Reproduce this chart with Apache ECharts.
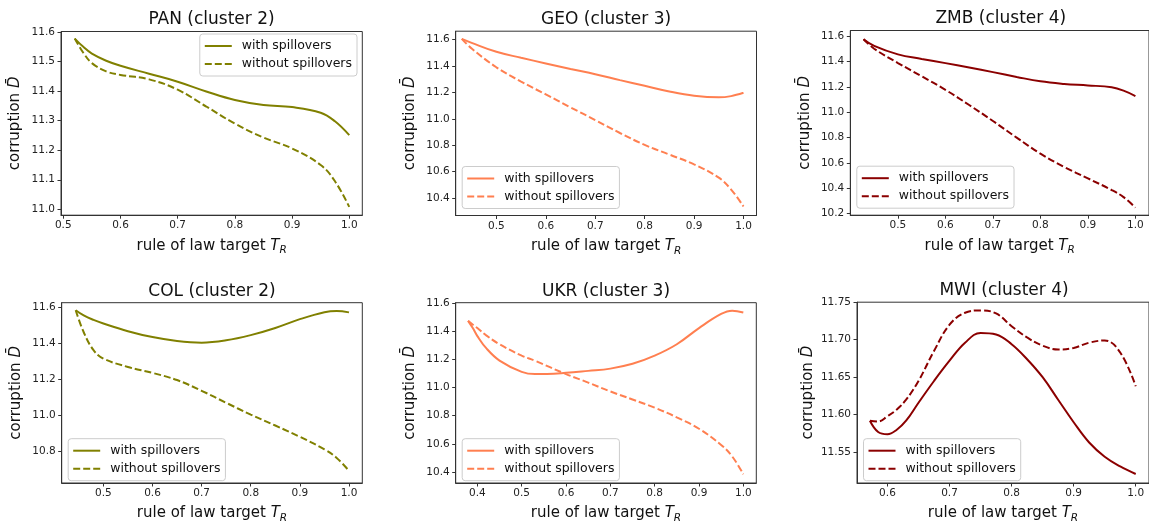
<!DOCTYPE html>
<html><head><meta charset="utf-8">
<script src="https://cdn.jsdelivr.net/npm/echarts@6/dist/echarts.min.js"></script>
<style>html,body{margin:0;padding:0;background:#fff}#c{width:1149px;height:525px}</style>
</head><body><div id="c"></div>
<script>
// ---------- DATA ----------
const LEGEND_LABELS = ['with spillovers', 'without spillovers'];
const TITLES = ['PAN (cluster 2)', 'GEO (cluster 3)', 'ZMB (cluster 4)', 'COL (cluster 2)', 'UKR (cluster 3)', 'MWI (cluster 4)'];

const PAN_X       = [0.52, 0.535, 0.55, 0.575, 0.6, 0.65, 0.7, 0.75, 0.8, 0.85, 0.9, 0.95, 0.975, 1.0];
const PAN_WITH    = [11.578, 11.550, 11.527, 11.503, 11.486, 11.459, 11.432, 11.399, 11.370, 11.353, 11.346, 11.327, 11.298, 11.251];
const PAN_WITHOUT = [11.578, 11.530, 11.495, 11.467, 11.455, 11.440, 11.405, 11.348, 11.290, 11.243, 11.206, 11.150, 11.095, 11.008];

const GEO_X       = [0.43, 0.45, 0.5, 0.55, 0.6, 0.65, 0.7, 0.75, 0.8, 0.85, 0.9, 0.95, 0.975, 1.0];
const GEO_WITH    = [11.605, 11.575, 11.507, 11.462, 11.419, 11.377, 11.338, 11.293, 11.250, 11.207, 11.175, 11.163, 11.172, 11.197];
const GEO_WITHOUT = [11.605, 11.532, 11.390, 11.282, 11.185, 11.087, 10.991, 10.893, 10.803, 10.730, 10.655, 10.555, 10.465, 10.337];

const ZMB_X       = [0.4276, 0.45, 0.5, 0.55, 0.6, 0.65, 0.7, 0.75, 0.8, 0.85, 0.9, 0.95, 0.975, 1.0];
const ZMB_WITH    = [11.578, 11.525, 11.458, 11.422, 11.389, 11.355, 11.318, 11.280, 11.245, 11.225, 11.213, 11.198, 11.172, 11.129];
const ZMB_WITHOUT = [11.578, 11.503, 11.390, 11.285, 11.178, 11.058, 10.932, 10.800, 10.674, 10.568, 10.478, 10.386, 10.330, 10.247];

const COL_X       = [0.4437, 0.46, 0.48, 0.5, 0.55, 0.6, 0.65, 0.7, 0.75, 0.8, 0.85, 0.9, 0.95, 0.975, 1.0];
const COL_WITH    = [11.585, 11.556, 11.531, 11.511, 11.468, 11.435, 11.413, 11.404, 11.417, 11.446, 11.486, 11.535, 11.574, 11.581, 11.573];
const COL_WITHOUT = [11.585, 11.462, 11.362, 11.315, 11.268, 11.235, 11.195, 11.135, 11.068, 11.002, 10.941, 10.878, 10.808, 10.760, 10.688];

const UKR_X       = [0.379, 0.39, 0.4, 0.42, 0.45, 0.5, 0.53, 0.6, 0.65, 0.7, 0.75, 0.8, 0.85, 0.9, 0.95, 0.975, 1.0];
const UKR_WITH    = [11.473, 11.42, 11.365, 11.279, 11.191, 11.111, 11.095, 11.104, 11.118, 11.134, 11.168, 11.226, 11.307, 11.422, 11.522, 11.545, 11.533];
const UKR_WITHOUT = [11.473, 11.445, 11.422, 11.37, 11.307, 11.226, 11.19, 11.095, 11.035, 10.972, 10.915, 10.857, 10.788, 10.707, 10.592, 10.51, 10.384];

const MWI_X       = [0.5717, 0.585, 0.6, 0.615, 0.63, 0.65, 0.675, 0.7, 0.725, 0.75, 0.775, 0.8, 0.825, 0.85, 0.875, 0.9, 0.925, 0.95, 0.975, 1.0];
const MWI_WITH    = [11.592, 11.577, 11.574, 11.580, 11.592, 11.616, 11.645, 11.672, 11.696, 11.709, 11.707, 11.694, 11.674, 11.650, 11.620, 11.590, 11.563, 11.544, 11.531, 11.521];
const MWI_WITHOUT = [11.592, 11.591, 11.598, 11.607, 11.620, 11.645, 11.685, 11.720, 11.736, 11.739, 11.735, 11.718, 11.703, 11.692, 11.687, 11.689, 11.696, 11.699, 11.683, 11.638];

const X_TICKS_05 = [0.5, 0.6, 0.7, 0.8, 0.9, 1.0];
const X_TICKS_04 = [0.4, 0.5, 0.6, 0.7, 0.8, 0.9, 1.0];
const X_TICKS_06 = [0.6, 0.7, 0.8, 0.9, 1.0];
const PAN_Y_TICKS = [11.0, 11.1, 11.2, 11.3, 11.4, 11.5, 11.6];
const GEO_Y_TICKS = [10.4, 10.6, 10.8, 11.0, 11.2, 11.4, 11.6];
const ZMB_Y_TICKS = [10.2, 10.4, 10.6, 10.8, 11.0, 11.2, 11.4, 11.6];
const COL_Y_TICKS = [10.8, 11.0, 11.2, 11.4, 11.6];
const UKR_Y_TICKS = [10.4, 10.6, 10.8, 11.0, 11.2, 11.4, 11.6];
const MWI_Y_TICKS = [11.55, 11.60, 11.65, 11.70, 11.75];

// ---------- LAYOUT / STYLE ----------
const W = 1149, H = 525;
const OLIVE = '#808000', CORAL = '#ff7f50', DRED = '#8b0000';
const panels = [
  {x: PAN_X, w: PAN_WITH, wo: PAN_WITHOUT, color: OLIVE, l: 61,    t: 31.5,  r: 362.3,  b: 215.2, xmin: 0.496,  xmax: 1.0228, ymin: 10.980, ymax: 11.602, xt: X_TICKS_05, yt: PAN_Y_TICKS, yd: 1, leg: 'ur', gap: 38},
  {x: GEO_X, w: GEO_WITH, wo: GEO_WITHOUT, color: CORAL, l: 455.7, t: 31.2,  r: 756.5,  b: 215.5, xmin: 0.4177, xmax: 1.0263, ymin: 10.269, ymax: 11.663, xt: X_TICKS_05, yt: GEO_Y_TICKS, yd: 1, leg: 'll', gap: 38},
  {x: ZMB_X, w: ZMB_WITH, wo: ZMB_WITHOUT, color: DRED,  l: 850.3, t: 30.5,  r: 1151.4, b: 215.2, xmin: 0.3997, xmax: 1.0286, ymin: 10.187, ymax: 11.647, xt: X_TICKS_05, yt: ZMB_Y_TICKS, yd: 1, leg: 'll', gap: 38},
  {x: COL_X, w: COL_WITH, wo: COL_WITHOUT, color: OLIVE, l: 61.7,  t: 302.7, r: 362.3,  b: 487.7, xmin: 0.4152, xmax: 1.0271, ymin: 10.620, ymax: 11.627, xt: X_TICKS_05, yt: COL_Y_TICKS, yd: 1, leg: 'll', gap: 38},
  {x: UKR_X, w: UKR_WITH, wo: UKR_WITHOUT, color: CORAL, l: 455.7, t: 302.7, r: 756.3,  b: 487.7, xmin: 0.3511, xmax: 1.0293, ymin: 10.322, ymax: 11.602, xt: X_TICKS_04, yt: UKR_Y_TICKS, yd: 1, leg: 'll', gap: 38},
  {x: MWI_X, w: MWI_WITH, wo: MWI_WITHOUT, color: DRED,  l: 857,   t: 302.2, r: 1151.1, b: 487.7, xmin: 0.5509, xmax: 1.0214, ymin: 11.509, ymax: 11.750, xt: X_TICKS_06, yt: MWI_Y_TICKS, yd: 2, leg: 'll', gap: 41}
];

const FONT = 'DejaVu Sans';
const AX = '#333';
const option = {
  animation: false,
  backgroundColor: '#fff',
  textStyle: {fontFamily: FONT},
  grid: [], xAxis: [], yAxis: [], series: [], title: [], legend: []
};

const zip = (xs, ys) => xs.map((v, i) => [v, ys[i]]);

panels.forEach((p, i) => {
  option.grid.push({
    left: p.l, top: p.t, width: p.r - p.l, height: p.b - p.t,
    show: true, borderColor: AX, borderWidth: 1, backgroundColor: 'transparent'
  });
  option.xAxis.push({
    type: 'value', gridIndex: i, min: p.xmin, max: p.xmax,
    splitLine: {show: false},
    axisLine: {show: true, lineStyle: {color: AX, width: 1}},
    axisTick: {show: true, length: 3.5, lineStyle: {color: AX}, customValues: p.xt},
    axisLabel: {customValues: p.xt, formatter: v => v.toFixed(1), fontSize: 10.5, color: '#222', margin: 5, fontFamily: FONT},
    name: 'rule of law target {t|T}{r|R}',
    nameLocation: 'middle', nameGap: 20,
    nameTextStyle: {
      fontSize: 15, color: '#111', fontFamily: FONT,
      rich: {
        t: {fontSize: 15, fontStyle: 'italic', color: '#111', fontFamily: FONT},
        r: {fontSize: 10.5, fontStyle: 'italic', color: '#111', fontFamily: FONT, padding: [10, 0, 0, 0]}
      }
    }
  });
  option.yAxis.push({
    type: 'value', gridIndex: i, min: p.ymin, max: p.ymax,
    splitLine: {show: false},
    axisLine: {show: true, lineStyle: {color: AX, width: 1}},
    axisTick: {show: true, length: 3.5, lineStyle: {color: AX}, customValues: p.yt},
    axisLabel: {customValues: p.yt, formatter: v => v.toFixed(p.yd), fontSize: 10.5, color: '#222', margin: 6, fontFamily: FONT},
    name: 'corruption {d|D\u0304}',
    nameLocation: 'middle', nameGap: p.gap,
    nameTextStyle: {
      fontSize: 15, color: '#111', fontFamily: FONT,
      rich: {d: {fontSize: 15, fontStyle: 'italic', color: '#111', fontFamily: FONT}}
    }
  });
  const nW = 'p' + i + '_0', nWo = 'p' + i + '_1';
  option.series.push({
    name: nW, type: 'line', xAxisIndex: i, yAxisIndex: i, data: zip(p.x, p.w),
    symbol: 'none', showSymbol: false, smooth: 0.4,
    lineStyle: {color: p.color, width: 2, type: 'solid'}, itemStyle: {color: p.color}
  });
  option.series.push({
    name: nWo, type: 'line', xAxisIndex: i, yAxisIndex: i, data: zip(p.x, p.wo),
    symbol: 'none', showSymbol: false, smooth: 0.4,
    lineStyle: {color: p.color, width: 2, type: [7, 3], cap: 'butt'}, itemStyle: {color: p.color}
  });
  option.title.push({
    text: TITLES[i], left: (p.l + Math.min(p.r, p.l + 301)) / 2, textAlign: 'center',
    top: p.t - 20, padding: 0,
    textStyle: {fontSize: 17, fontWeight: 'normal', color: '#111', fontFamily: FONT}
  });
  const leg = {
    data: [nW, nWo], orient: 'vertical', selectedMode: false,
    itemWidth: 27, itemHeight: 14, itemGap: 4,
    padding: [5, 5, 5, 4],
    borderColor: '#ccc', borderWidth: 1, borderRadius: 3,
    backgroundColor: 'rgba(255,255,255,0.8)',
    itemStyle: {opacity: 0},
    formatter: name => LEGEND_LABELS[+name.slice(-1)],
    textStyle: {fontSize: 12.5, color: '#111', fontFamily: FONT, padding: [0, 0, 0, 5], lineHeight: 14}
  };
  if (p.leg === 'ur') { leg.right = W - (p.r - 5.3); leg.top = p.t + 2.5; }
  else { leg.left = p.l + 6.5; leg.bottom = H - (p.b - 7); }
  option.legend.push(leg);
});

const chart = echarts.init(document.getElementById('c'), null, {renderer: 'canvas'});
chart.setOption(option);
</script>
</body></html>
